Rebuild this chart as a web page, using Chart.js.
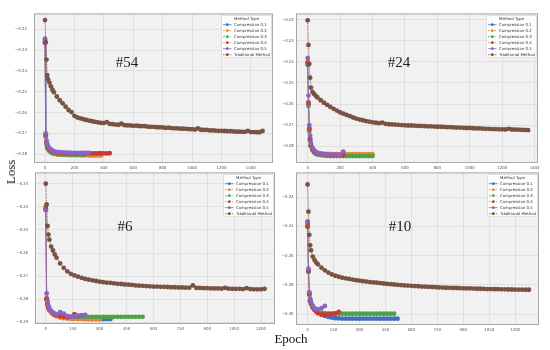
<!DOCTYPE html>
<html>
<head>
<meta charset="utf-8">
<script src="https://cdn.jsdelivr.net/npm/chart.js@4.4.0/dist/chart.umd.min.js"></script>
<style>
  body { margin: 0; width: 550px; height: 350px; background: #fff; position: relative; overflow: hidden; }
  .panel { position: absolute; }
  .tag { position: absolute; font-family: "Liberation Serif", serif; font-size: 15px; color: #222; transform: translate(-50%, -50%); white-space: nowrap; }
  .axlab { position: absolute; font-family: "Liberation Serif", serif; font-size: 13px; color: #111; white-space: nowrap; }
</style>
</head>
<body>
<div class="panel" style="left:0;top:11px;width:276px;height:162px"><canvas id="c54"></canvas></div>
<div class="panel" style="left:262px;top:11px;width:279px;height:162px"><canvas id="c24"></canvas></div>
<div class="panel" style="left:1px;top:170px;width:277px;height:164px"><canvas id="c6"></canvas></div>
<div class="panel" style="left:262px;top:170px;width:280px;height:165px"><canvas id="c10"></canvas></div>

<div class="tag" style="left:127px;top:62px">#54</div>
<div class="tag" style="left:399px;top:62px">#24</div>
<div class="tag" style="left:125px;top:226px">#6</div>
<div class="tag" style="left:400px;top:226px">#10</div>
<div class="axlab" style="left:11px;top:172px;transform:translate(-50%,-50%) rotate(-90deg)">Loss</div>
<div class="axlab" style="left:291px;top:339px;transform:translate(-50%,-50%)">Epoch</div>

<script>
// x values (epochs) shared by the series
const epochsTrad = [0, 5, 10, 15, 20, 30, 40, 50, 60,
  80, 100, 120, 140, 160, 180, 200, 220, 240, 260, 280, 300, 320, 340, 360, 380, 400,
  420, 440, 460, 480, 500, 520, 540, 560, 580, 600, 620, 640, 660, 680, 700, 720, 740,
  760, 780, 800, 820, 840, 860, 880, 900, 920, 940, 960, 980, 1000, 1020, 1040, 1060,
  1080, 1100, 1120, 1140, 1160, 1180, 1200, 1220, 1240, 1260, 1280, 1300, 1320, 1340,
  1360, 1380, 1400, 1420, 1440, 1460, 1480];
const epochsComp = [0, 5, 10, 15, 20, 30, 40, 50, 60, 80, 100, 120, 140, 160, 180, 200,
  220, 240, 260, 280, 300, 320, 340, 360, 380, 400, 420, 440, 460, 480, 500, 520, 540, 560];

const seriesNames = ['Compression 0.1', 'Compression 0.2', 'Compression 0.3', 'Compression 0.4', 'Compression 0.5', 'Traditional Method'];
const legendTitle = 'Method Type';

// tick labels
const xTicksA = [0, 200, 400, 600, 800, 1000, 1200, 1400];
const xTicksB = [0, 150, 300, 450, 600, 750, 900, 1050, 1200];
const yTicks54 = [-0.28, -0.27, -0.26, -0.25, -0.24, -0.23, -0.22];
const yTicks24 = [-0.28, -0.27, -0.26, -0.25, -0.24, -0.23, -0.22];
const yTicks6 = [-0.29, -0.28, -0.27, -0.26, -0.25, -0.24, -0.23];
const yTicks10 = [-0.30, -0.28, -0.26, -0.24, -0.22];

// #54
const run54Trad = [-0.2155, -0.2262, -0.2345, -0.2420, -0.2440, -0.2456, -0.2474, -0.2490, -0.2502, -0.2523,
  -0.2541, -0.2556, -0.2572, -0.2588, -0.2598, -0.2616, -0.2624, -0.2628, -0.2632, -0.2636,
  -0.2639, -0.2642, -0.2645, -0.2647, -0.2650, -0.2651, -0.2646, -0.2655, -0.2656, -0.2658,
  -0.2659, -0.2654, -0.2661, -0.2662, -0.2662, -0.2664, -0.2663, -0.2665, -0.2666, -0.2666,
  -0.2668, -0.2669, -0.2669, -0.2671, -0.2671, -0.2672, -0.2674, -0.2673, -0.2675, -0.2676,
  -0.2676, -0.2678, -0.2678, -0.2679, -0.2680, -0.2680, -0.2682, -0.2677, -0.2683, -0.2684,
  -0.2684, -0.2686, -0.2686, -0.2687, -0.2688, -0.2688, -0.2689, -0.2690, -0.2690, -0.2691,
  -0.2692, -0.2692, -0.2693, -0.2693, -0.2688, -0.2694, -0.2694, -0.2695, -0.2695, -0.2689];
const run54C01 = [-0.2250, -0.2712, -0.2748, -0.2764, -0.2773, -0.2781, -0.2787, -0.2791, -0.2794, -0.2797,
  -0.2798, -0.2799, -0.2800, -0.2800, -0.2800, -0.2801, -0.2801, -0.2801, -0.2801, -0.2801, -0.2801];
const run54C02 = [-0.2258, -0.2718, -0.2752, -0.2768, -0.2777, -0.2786, -0.2792, -0.2796, -0.2799, -0.2802,
  -0.2803, -0.2804, -0.2805, -0.2805, -0.2806, -0.2806, -0.2806, -0.2806, -0.2807, -0.2806,
  -0.2807, -0.2807, -0.2807, -0.2807, -0.2807];
const run54C03 = [-0.2262, -0.2715, -0.2750, -0.2766, -0.2775, -0.2784, -0.2790, -0.2794, -0.2797, -0.2800,
  -0.2801, -0.2802, -0.2802, -0.2803, -0.2803, -0.2803, -0.2803, -0.2803, -0.2803];
const run54C04 = [-0.2265, -0.2706, -0.2740, -0.2758, -0.2768, -0.2777, -0.2783, -0.2787, -0.2790, -0.2793,
  -0.2794, -0.2795, -0.2796, -0.2796, -0.2796, -0.2797, -0.2797, -0.2797, -0.2797, -0.2797,
  -0.2797, -0.2797, -0.2797, -0.2797, -0.2796, -0.2797, -0.2797, -0.2796];
const run54C05 = [-0.2245, -0.2700, -0.2735, -0.2752, -0.2762, -0.2771, -0.2778, -0.2783, -0.2786, -0.2789,
  -0.2791, -0.2792, -0.2793, -0.2793, -0.2794, -0.2794, -0.2794, -0.2794, -0.2794, -0.2794, -0.2794];

// #24
const run24Trad = [-0.2203, -0.2320, -0.2410, -0.2475, -0.2522, -0.2543, -0.2553, -0.2561, -0.2569, -0.2582,
  -0.2594, -0.2604, -0.2614, -0.2623, -0.2631, -0.2640, -0.2646, -0.2652, -0.2658, -0.2664,
  -0.2669, -0.2674, -0.2677, -0.2681, -0.2684, -0.2687, -0.2689, -0.2691, -0.2688, -0.2694,
  -0.2696, -0.2697, -0.2698, -0.2699, -0.2700, -0.2701, -0.2702, -0.2702, -0.2703, -0.2704,
  -0.2704, -0.2705, -0.2706, -0.2706, -0.2707, -0.2708, -0.2708, -0.2709, -0.2710, -0.2710,
  -0.2711, -0.2712, -0.2712, -0.2713, -0.2714, -0.2714, -0.2715, -0.2716, -0.2716, -0.2717,
  -0.2718, -0.2718, -0.2719, -0.2719, -0.2720, -0.2720, -0.2721, -0.2718, -0.2721, -0.2722,
  -0.2722, -0.2723, -0.2723, -0.2724];
const run24C01 = [-0.2415, -0.2600, -0.2720, -0.2768, -0.2797, -0.2815, -0.2824, -0.2830, -0.2834, -0.2838,
  -0.2840, -0.2841, -0.2842, -0.2842, -0.2843, -0.2843, -0.2843, -0.2843];
const run24C02 = [-0.2405, -0.2590, -0.2712, -0.2762, -0.2793, -0.2812, -0.2821, -0.2827, -0.2831, -0.2834,
  -0.2836, -0.2837, -0.2837, -0.2838, -0.2838, -0.2838, -0.2838, -0.2838, -0.2838, -0.2838,
  -0.2838, -0.2838, -0.2838, -0.2838, -0.2838, -0.2838];
const run24C03 = [-0.2408, -0.2610, -0.2730, -0.2775, -0.2802, -0.2820, -0.2830, -0.2836, -0.2840, -0.2843,
  -0.2845, -0.2846, -0.2847, -0.2847, -0.2847, -0.2847, -0.2847, -0.2847, -0.2847, -0.2847,
  -0.2847, -0.2847, -0.2847, -0.2847, -0.2847, -0.2847];
const run24C04 = [-0.2403, -0.2595, -0.2718, -0.2766, -0.2796, -0.2815, -0.2825, -0.2831, -0.2835, -0.2838,
  -0.2840, -0.2841, -0.2842, -0.2842, -0.2842, -0.2842, -0.2842];
const run24C05 = [-0.2382, -0.2560, -0.2700, -0.2750, -0.2785, -0.2808, -0.2820, -0.2827, -0.2832, -0.2836,
  -0.2838, -0.2839, -0.2840, -0.2840, -0.2840, -0.2841, -0.2826];

// #6
const run6Trad = [-0.2300, -0.2390, -0.2483, -0.2520, -0.2542, -0.2572, -0.2589, -0.2606, -0.2620, -0.2645,
  -0.2664, -0.2679, -0.2690, -0.2697, -0.2702, -0.2707, -0.2712, -0.2715, -0.2718, -0.2721,
  -0.2724, -0.2726, -0.2728, -0.2729, -0.2731, -0.2733, -0.2734, -0.2736, -0.2737, -0.2738,
  -0.2740, -0.2741, -0.2742, -0.2743, -0.2744, -0.2745, -0.2745, -0.2746, -0.2746, -0.2747,
  -0.2748, -0.2748, -0.2749, -0.2749, -0.2750, -0.2750, -0.2740, -0.2751, -0.2751, -0.2752,
  -0.2752, -0.2753, -0.2753, -0.2753, -0.2754, -0.2751, -0.2754, -0.2755, -0.2755, -0.2755,
  -0.2756, -0.2752, -0.2756, -0.2757, -0.2757, -0.2757, -0.2755];
const run6C01 = [-0.2410, -0.2798, -0.2822, -0.2836, -0.2845, -0.2855, -0.2862, -0.2867, -0.2871, -0.2877,
  -0.2880, -0.2882, -0.2883, -0.2884, -0.2885, -0.2885, -0.2886, -0.2886, -0.2886, -0.2886,
  -0.2886, -0.2886, -0.2886, -0.2886];
const run6C02 = [-0.2412, -0.2804, -0.2828, -0.2840, -0.2849, -0.2858, -0.2865, -0.2870, -0.2874, -0.2879,
  -0.2882, -0.2883, -0.2884, -0.2885, -0.2885, -0.2885, -0.2885, -0.2886, -0.2886, -0.2886, -0.2886];
const run6C03 = [-0.2400, -0.2800, -0.2822, -0.2835, -0.2843, -0.2852, -0.2858, -0.2863, -0.2866, -0.2870,
  -0.2872, -0.2874, -0.2875, -0.2876, -0.2876, -0.2876, -0.2876, -0.2876, -0.2876, -0.2876,
  -0.2876, -0.2876, -0.2876, -0.2876, -0.2876, -0.2876, -0.2876, -0.2876, -0.2876, -0.2876,
  -0.2876, -0.2876, -0.2876];
const run6C04 = [-0.2408, -0.2796, -0.2820, -0.2834, -0.2843, -0.2852, -0.2860, -0.2866, -0.2870, -0.2874,
  -0.2876, -0.2878, -0.2876, -0.2864, -0.2874, -0.2870];
const run6C05 = [-0.2415, -0.2775, -0.2810, -0.2828, -0.2840, -0.2850, -0.2858, -0.2862, -0.2866, -0.2856,
  -0.2862, -0.2872, -0.2876, -0.2874, -0.2870, -0.2872, -0.2868];

// #10
const run10Trad = [-0.2113, -0.2300, -0.2458, -0.2530, -0.2564, -0.2607, -0.2630, -0.2648, -0.2660, -0.2683,
  -0.2701, -0.2716, -0.2729, -0.2738, -0.2745, -0.2751, -0.2756, -0.2760, -0.2764, -0.2768,
  -0.2772, -0.2775, -0.2778, -0.2781, -0.2784, -0.2786, -0.2789, -0.2791, -0.2794, -0.2796,
  -0.2798, -0.2800, -0.2802, -0.2804, -0.2805, -0.2807, -0.2809, -0.2810, -0.2812, -0.2813,
  -0.2814, -0.2815, -0.2816, -0.2818, -0.2819, -0.2820, -0.2821, -0.2822, -0.2822, -0.2823,
  -0.2824, -0.2825, -0.2825, -0.2826, -0.2827, -0.2827, -0.2828, -0.2829, -0.2829, -0.2830,
  -0.2830, -0.2831, -0.2831, -0.2832, -0.2832, -0.2833, -0.2833, -0.2833, -0.2834, -0.2834];
const run10C01 = [-0.2382, -0.2700, -0.2860, -0.2905, -0.2925, -0.2950, -0.2965, -0.2978, -0.2988, -0.3003,
  -0.3013, -0.3020, -0.3025, -0.3028, -0.3030, -0.3031, -0.3032, -0.3032, -0.3032, -0.3032,
  -0.3032, -0.3032, -0.3032, -0.3032, -0.3032, -0.3032, -0.3032, -0.3032, -0.3032, -0.3032,
  -0.3032, -0.3032];
const run10C02 = [-0.2398, -0.2710, -0.2865, -0.2910, -0.2930, -0.2955, -0.2970, -0.2980, -0.2987, -0.2993,
  -0.2996, -0.2997, -0.2997];
const run10C03 = [-0.2405, -0.2712, -0.2868, -0.2912, -0.2932, -0.2956, -0.2968, -0.2977, -0.2983, -0.2990,
  -0.2995, -0.2997, -0.2998, -0.2998, -0.2998, -0.2998, -0.2998, -0.2998, -0.2998, -0.2998,
  -0.2998, -0.2998, -0.2998, -0.2998, -0.2998, -0.2998, -0.2998, -0.2998, -0.2998, -0.2998, -0.2998];
const run10C04 = [-0.2398, -0.2705, -0.2862, -0.2908, -0.2930, -0.2955, -0.2970, -0.2985, -0.2995, -0.3003,
  -0.3005, -0.3003, -0.3000, -0.2995, -0.2986];
const run10C05 = [-0.2366, -0.2690, -0.2850, -0.2895, -0.2918, -0.2945, -0.2960, -0.2968, -0.2968, -0.2960, -0.2945];

const colors = ['#4170b8', '#ec8430', '#4ea24a', '#c63b33', '#8b63c2', '#7a5244'];
const dashes = [[], [2, 1], [2, 0.8, 0.6, 0.8], [0.6, 0.8], [], [1.5, 0.8]];

Chart.defaults.font.family = '"DejaVu Sans", sans-serif';

function toPoints(epochs, vals) {
  return vals.map((v, i) => ({ x: epochs[i], y: v }));
}

function fmtY(v) {
  return '\u2212' + Math.abs(v).toFixed(2);
}

// no extra room for edge labels, chart area is set by layout only
function noPad(s) {
  s.paddingTop = 0;
  s.paddingBottom = 0;
  s.paddingLeft = 0;
  s.paddingRight = 0;
}

const plotFrame = {
  id: 'plotFrame',
  beforeDraw(chart) {
    const a = chart.chartArea, c = chart.ctx;
    c.save();
    c.fillStyle = '#f1f1f1';
    c.fillRect(a.left, a.top, a.right - a.left, a.bottom - a.top);
    c.restore();
  },
  afterDraw(chart) {
    const a = chart.chartArea, c = chart.ctx;
    c.save();
    c.strokeStyle = '#a8a8a8';
    c.lineWidth = 1;
    c.strokeRect(a.left + 0.5, a.top + 0.5, a.right - a.left - 1, a.bottom - a.top - 1);

    // legend box
    const w = 50, h = 42, x = a.right - w - 1.5, y = a.top + 2;
    c.fillStyle = 'rgba(255,255,255,0.85)';
    c.strokeStyle = '#d0d0d0';
    c.lineWidth = 0.6;
    c.beginPath();
    c.roundRect(x, y, w, h, 1.5);
    c.fill();
    c.stroke();
    c.font = '3.9px "DejaVu Sans"';
    c.fillStyle = '#333';
    c.textBaseline = 'middle';
    c.textAlign = 'center';
    c.fillText(legendTitle, x + w / 2, y + 3.6);
    c.textAlign = 'left';
    seriesNames.forEach((name, i) => {
      const yy = y + 9.3 + i * 6;
      c.strokeStyle = colors[i];
      c.lineWidth = 0.8;
      c.setLineDash(dashes[i]);
      c.beginPath();
      c.moveTo(x + 1.5, yy);
      c.lineTo(x + 10, yy);
      c.stroke();
      c.setLineDash([]);
      c.fillStyle = colors[i];
      c.beginPath();
      c.arc(x + 5.8, yy, 1.4, 0, Math.PI * 2);
      c.fill();
      c.fillStyle = '#333';
      c.fillText(name, x + 12.5, yy);
    });
    c.restore();
  }
};

function makePanel(id, comp, trad, xr, xt, yr, yt, ylPad) {
  const datasets = comp.map((vals, i) => ({
    label: seriesNames[i],
    data: toPoints(epochsComp, vals),
    borderColor: colors[i],
    backgroundColor: colors[i],
    borderWidth: 0.7,
    borderDash: dashes[i],
    pointRadius: 2.4,
    pointBorderWidth: 0,
    pointHoverRadius: 0,
    order: 5 - i
  }));
  datasets.push({
    label: seriesNames[5],
    data: toPoints(epochsTrad, trad),
    borderColor: colors[5],
    backgroundColor: colors[5],
    borderWidth: 0.7,
    borderDash: dashes[5],
    pointRadius: 2.4,
    pointBorderWidth: 0,
    pointHoverRadius: 0,
    order: 0
  });

  new Chart(document.getElementById(id), {
    type: 'line',
    data: { datasets },
    plugins: [plotFrame],
    options: {
      responsive: true,
      maintainAspectRatio: false,
      animation: false,
      devicePixelRatio: 1,
      layout: { padding: { top: 2, right: 3, left: 0, bottom: 0 } },
      plugins: { legend: { display: false }, tooltip: { enabled: false } },
      scales: {
        x: {
          type: 'linear', min: xr[0], max: xr[1],
          afterBuildTicks: s => { s.ticks = xt.map(v => ({ value: v })); },
          afterFit: s => { s.height = 10; noPad(s); },
          grid: { color: '#d9d9d9', lineWidth: 0.7, drawTicks: false },
          border: { display: false },
          ticks: { font: { size: 3.9 }, color: '#555', padding: 2.5, maxRotation: 0, autoSkip: false, callback: v => String(v) }
        },
        y: {
          type: 'linear', min: yr[0], max: yr[1],
          afterBuildTicks: s => { s.ticks = yt.map(v => ({ value: v })); },
          afterFit: s => { s.width = 34; noPad(s); },
          grid: { color: '#d9d9d9', lineWidth: 0.7, drawTicks: false },
          border: { display: false },
          ticks: { font: { size: 3.9 }, color: '#555', padding: ylPad, autoSkip: false, callback: v => fmtY(v) }
        }
      }
    }
  });
}

makePanel('c54', [run54C01, run54C02, run54C03, run54C04, run54C05], run54Trad, [-75, 1551], xTicksA, [-0.2843, -0.2123], yTicks54, 7);
makePanel('c24', [run24C01, run24C02, run24C03, run24C04, run24C05], run24Trad, [-72, 1421], xTicksA, [-0.2880, -0.2170], yTicks24, 2.2);
makePanel('c6', [run6C01, run6C02, run6C03, run6C04, run6C05], run6Trad, [-60, 1278], xTicksB, [-0.2907, -0.2251], yTicks6, 6.7);
makePanel('c10', [run10C01, run10C02, run10C03, run10C04, run10C05], run10Trad, [-67, 1338], xTicksB, [-0.3075, -0.2031], yTicks10, 2.4);
</script>
</body>
</html>
